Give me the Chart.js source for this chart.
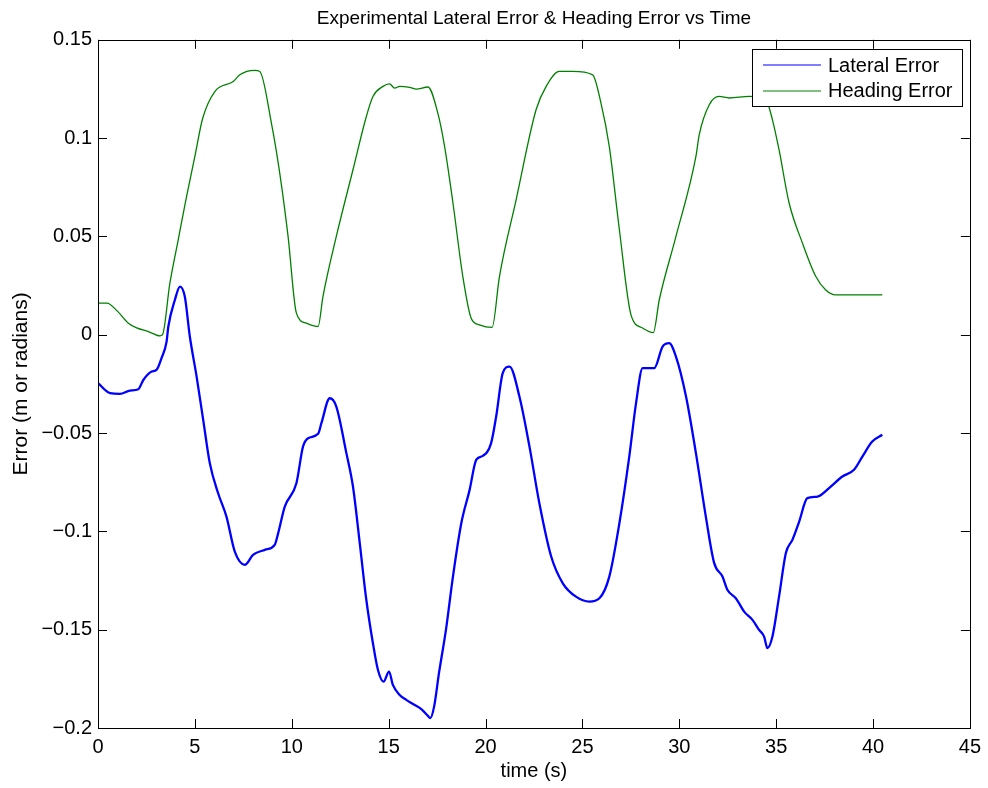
<!DOCTYPE html>
<html>
<head>
<meta charset="utf-8">
<script src="https://cdn.jsdelivr.net/npm/chart.js@4/dist/chart.umd.min.js"></script>
<style>
  html, body { margin: 0; padding: 0; background: #fff; }
  #wrap { width: 988px; height: 788px; }
</style>
</head>
<body>
<div id="wrap"><canvas id="c" width="988" height="788"></canvas></div>
<script>
// ---- data ----
const lateralTime = [0, 0.62, 1.13, 1.65, 2.08, 2.34, 2.77, 3.02, 3.28, 3.54, 3.63, 3.97, 4.23, 4.48, 4.74, 5.09, 5.43, 5.77, 6.2, 6.63, 7.06, 7.58, 8.0, 8.61, 9.12, 9.3, 9.64, 10.24, 10.58, 10.84, 11.36, 11.53, 11.96, 12.3, 12.82, 13.16, 13.51, 13.85, 14.19, 14.45, 14.74, 15.02, 15.22, 15.57, 15.91, 16.3, 16.7, 17.0, 17.15, 17.35, 17.6, 17.97, 18.32, 18.75, 19.18, 19.52, 19.86, 20.29, 20.55, 20.89, 21.24, 21.75, 22.27, 22.78, 23.39, 23.99, 24.67, 25.36, 25.88, 26.39, 26.91, 27.42, 27.77, 28.11, 28.71, 29.14, 29.48, 29.83, 30.35, 30.86, 31.38, 31.8, 32.23, 32.49, 32.92, 33.35, 33.78, 34.12, 34.38, 34.55, 34.81, 35.15, 35.5, 35.84, 36.19, 36.61, 37.13, 37.73, 38.42, 39.02, 39.45, 39.96, 40.48];
const lateralError = [-0.0246, -0.0297, -0.0301, -0.0284, -0.0277, -0.023, -0.0187, -0.0179, -0.0119, -0.0035, 0.0042, 0.0178, 0.0245, 0.0194, -0.0009, -0.0213, -0.0433, -0.0653, -0.0806, -0.0925, -0.1103, -0.117, -0.112, -0.1094, -0.1069, -0.1009, -0.0874, -0.0755, -0.0569, -0.0526, -0.0504, -0.045, -0.0323, -0.0365, -0.0602, -0.0772, -0.106, -0.1349, -0.1569, -0.1705, -0.1764, -0.1713, -0.1781, -0.1832, -0.1857, -0.188, -0.1905, -0.1935, -0.195, -0.189, -0.172, -0.1493, -0.123, -0.0959, -0.0789, -0.0636, -0.0616, -0.0551, -0.0416, -0.0195, -0.0162, -0.0314, -0.0569, -0.0857, -0.1128, -0.1264, -0.1332, -0.1357, -0.134, -0.123, -0.0959, -0.062, -0.0348, -0.017, -0.017, -0.006, -0.0043, -0.0111, -0.0314, -0.0602, -0.093, -0.116, -0.123, -0.1298, -0.134, -0.1408, -0.145, -0.1501, -0.1535, -0.1594, -0.1535, -0.1332, -0.1111, -0.1043, -0.095, -0.0831, -0.0823, -0.078, -0.0721, -0.0687, -0.062, -0.0543, -0.0509];

const headingTime = [0, 0.46, 1.0, 1.55, 2.0, 2.6, 3.2, 3.33, 3.71, 4.14, 4.57, 5.0, 5.4, 6.03, 6.98, 7.32, 8.09, 8.35, 8.95, 9.38, 9.81, 10.24, 10.75, 11.36, 11.61, 12.3, 13.16, 13.85, 14.19, 14.71, 15.05, 15.31, 15.57, 16.08, 16.43, 17.03, 17.54, 17.89, 18.32, 18.83, 19.26, 19.69, 20.34, 20.72, 21.58, 22.61, 23.13, 23.81, 24.5, 25.53, 25.96, 26.39, 26.91, 27.51, 28.11, 28.66, 28.97, 29.83, 30.86, 31.03, 31.55, 32.06, 32.58, 33.61, 34.47, 34.81, 35.15, 35.67, 36.36, 37.05, 37.56, 38.08, 40.48];
const headingError = [0.0161, 0.0161, 0.012, 0.006, 0.0035, 0.0016, -0.0006, 0.0, 0.0262, 0.0483, 0.0703, 0.0907, 0.110, 0.1237, 0.1288, 0.1322, 0.1344, 0.1339, 0.1076, 0.0822, 0.05, 0.011, 0.0059, 0.0042, 0.0194, 0.05, 0.0839, 0.111, 0.1212, 0.1263, 0.1276, 0.1254, 0.1263, 0.1258, 0.1249, 0.126, 0.1127, 0.0957, 0.067, 0.0296, 0.0084, 0.005, 0.0037, 0.0296, 0.0686, 0.1144, 0.1263, 0.1339, 0.1339, 0.1322, 0.1178, 0.0957, 0.0534, 0.0101, 0.0034, 0.0011, 0.0178, 0.05, 0.0907, 0.1017, 0.117, 0.1212, 0.1204, 0.1212, 0.1195, 0.1093, 0.0941, 0.067, 0.0466, 0.0296, 0.0228, 0.0203, 0.0203];

const seriesNames = ['Lateral Error', 'Heading Error'];
const seriesColors = ['#0000ff', '#008000'];
const xTickValues = [0, 5, 10, 15, 20, 25, 30, 35, 40, 45];
const yTickValues = [-0.2, -0.15, -0.1, -0.05, 0, 0.05, 0.1, 0.15];

// ---- chart ----
const FONT = "'Liberation Sans', Arial, Helvetica, sans-serif";
const toPts = (xs, ys) => xs.map((t, i) => ({ x: t, y: ys[i] }));
const fmt = v => {
  const r = Math.round(v * 1000) / 1000;
  const s = String(Math.abs(r));
  return r < 0 ? '\u2212' + s : s;
};

const frameTicks = {
  id: 'frameTicks',
  afterLayout(chart) {
    const tb = chart.titleBlock;
    if (tb) {
      tb.left = chart.chartArea.left;
      tb.right = chart.chartArea.right;
      tb.width = tb.right - tb.left;
    }
  },
  afterDatasetsDraw(chart) {
    const { ctx, chartArea: a, scales: { x, y } } = chart;
    const L = 9;
    ctx.save();
    ctx.strokeStyle = '#000';
    ctx.lineWidth = 1;
    ctx.beginPath();
    x.ticks.forEach(t => {
      const p = Math.round(x.getPixelForValue(t.value)) + 0.5;
      ctx.moveTo(p, a.bottom); ctx.lineTo(p, a.bottom - L);
      ctx.moveTo(p, a.top); ctx.lineTo(p, a.top + L);
    });
    y.ticks.forEach(t => {
      const p = Math.round(y.getPixelForValue(t.value)) + 0.5;
      ctx.moveTo(a.left, p); ctx.lineTo(a.left + L, p);
      ctx.moveTo(a.right, p); ctx.lineTo(a.right - L, p);
    });
    ctx.stroke();
    ctx.strokeRect(Math.round(a.left) + 0.5, Math.round(a.top) + 0.5,
                   Math.round(a.right - a.left), Math.round(a.bottom - a.top));
    // legend box inside plot (top-right)
    const bx = 752, by = 49, bw = 210, bh = 57;
    ctx.fillStyle = '#fff';
    ctx.fillRect(bx, by, bw, bh);
    ctx.strokeStyle = '#000';
    ctx.strokeRect(bx + 0.5, by + 0.5, bw, bh);
    ctx.font = '20px ' + FONT;
    ctx.textBaseline = 'middle';
    ctx.textAlign = 'left';
    seriesNames.forEach((name, i) => {
      const ly = by + 16 + i * 25.5;
      ctx.strokeStyle = seriesColors[i];
      ctx.lineWidth = 1.2;
      ctx.beginPath();
      ctx.moveTo(bx + 11, Math.round(ly));
      ctx.lineTo(bx + 69, Math.round(ly));
      ctx.stroke();
      ctx.fillStyle = '#000';
      ctx.fillText(name, bx + 76, ly + 1);
    });
    ctx.restore();
  }
};

new Chart(document.getElementById('c'), {
  type: 'line',
  data: {
    datasets: [
      { label: seriesNames[0], data: toPts(lateralTime, lateralError),
        borderColor: seriesColors[0], borderWidth: 2.3, pointRadius: 0,
        cubicInterpolationMode: 'monotone' },
      { label: seriesNames[1], data: toPts(headingTime, headingError),
        borderColor: seriesColors[1], borderWidth: 1.3, pointRadius: 0,
        cubicInterpolationMode: 'monotone' }
    ]
  },
  options: {
    responsive: false,
    animation: false,
    devicePixelRatio: 1,
    layout: { padding: { left: 0, right: 13, top: 0, bottom: 0 } },
    plugins: {
      legend: { display: false },
      tooltip: { enabled: false },
      title: {
        display: true,
        text: 'Experimental Lateral Error & Heading Error vs Time',
        color: '#000',
        font: { family: FONT, size: 19, weight: 'normal' },
        padding: { top: 7, bottom: 10 }
      }
    },
    scales: {
      x: {
        type: 'linear', min: 0, max: 45,
        afterBuildTicks: s => { s.ticks = xTickValues.map(v => ({ value: v })); },
        afterFit: s => { s.height = 60; },
        grid: { display: false, drawTicks: false },
        border: { display: false },
        ticks: { color: '#000', font: { family: FONT, size: 20 }, padding: 7, maxRotation: 0,
                 callback: v => fmt(v) },
        title: { display: true, text: 'time (s)', color: '#000',
                 font: { family: FONT, size: 20 }, padding: { top: 0, bottom: 5 } }
      },
      y: {
        type: 'linear', min: -0.2, max: 0.15,
        afterBuildTicks: s => { s.ticks = yTickValues.map(v => ({ value: v })); },
        afterFit: s => { s.width = 98; },
        grid: { display: false, drawTicks: false },
        border: { display: false },
        ticks: { color: '#000', font: { family: FONT, size: 20 }, padding: 6,
                 callback: v => fmt(v) },
        title: { display: true, text: 'Error (m or radians)', color: '#000',
                 font: { family: FONT, size: 21 }, padding: { top: 9, bottom: 0 } }
      }
    }
  },
  plugins: [frameTicks]
});
</script>
</body>
</html>
